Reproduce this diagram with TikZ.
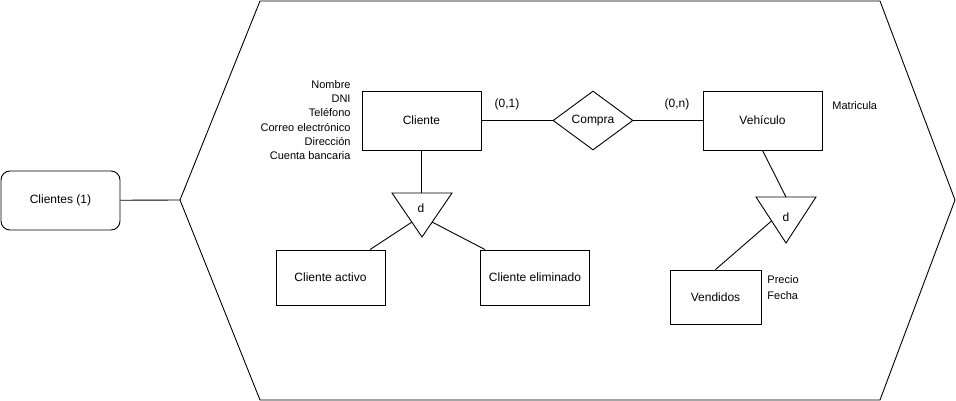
\documentclass[tikz,border=0pt]{standalone}
\usepackage{fontspec}
\setmainfont{Liberation Sans}
\usetikzlibrary{shapes.geometric}
\begin{document}
\begin{tikzpicture}[x=1pt,y=-1pt,line width=0.9pt]
        \tikzstyle{every node}+=[inner sep=0pt]
        \tikzstyle{entidad}=[draw=black, minimum width=119, minimum height=59, font=\fontsize{12}{14}\selectfont]
        \tikzstyle{subent}=[draw=black, minimum width=109, minimum height=55, font=\fontsize{12}{14}\selectfont]
        \tikzstyle{relacion}=[draw=black, diamond, minimum width=80, minimum height=59, font=\fontsize{12}{14}\selectfont]
        \tikzstyle{etiqueta}=[font=\fontsize{12}{14}\selectfont]
        \tikzstyle{atributo}=[font=\fontsize{11}{14.2}\selectfont]
        \useasboundingbox (0,0) rectangle (956,401);
        % contenedor
        \node [draw=black, rounded corners=9, minimum width=119, minimum height=59, font=\fontsize{12}{14}\selectfont] (clientes) at (60.5,200.5) {Clientes (1)};
        \coordinate (hexizq) at (180,200);
        \draw [black] (hexizq) -- (260,1) -- (880,1) -- (955,200) -- (880,400) -- (260,400) -- cycle;
        \draw [black] (clientes) -- (hexizq);
        % entidades y relacion
        \node [entidad] (cliente) at (421.5,120.5) {Cliente};
        \node [relacion] (compra) at (593,120.5) {Compra};
        \node [entidad] (vehiculo) at (762.5,120.5) {Vehículo};
        \draw [black] (cliente) -- (compra) -- (vehiculo);
        \node [etiqueta] (card1) at (507,104) {(0,1)};
        \node [etiqueta] (cardn) at (677,104) {(0,n)};
        \node [atributo, align=right, anchor=east] (atrcliente) at (351,120) {Nombre\\DNI\\Teléfono\\Correo electrónico\\Dirección\\Cuenta bancaria};
        \node [atributo, anchor=west] (atrvehiculo) at (832,106) {Matricula};
        % especializacion de cliente
        \coordinate (t1a) at (392,193);
        \coordinate (t1b) at (452,193);
        \coordinate (t1c) at (422,237);
        \draw [black] (t1a) -- (t1b) -- (t1c) -- cycle;
        \node [etiqueta] (d1) at (421,208) {d};
        \coordinate (t1l) at (412,222);
        \coordinate (t1r) at (432,222);
        \node [subent] (activo) at (330.5,277.5) {Cliente activo};
        \node [subent] (eliminado) at (535,277.5) {Cliente eliminado};
        \draw [black] (cliente.south) -- (cliente.south |- t1a);
        \draw [black] (t1l) -- ([xshift=39.5]activo.north);
        \draw [black] (t1r) -- ([xshift=-50]eliminado.north);
        % especializacion de vehiculo
        \coordinate (t2a) at (756,197);
        \coordinate (t2b) at (816,197);
        \coordinate (t2c) at (786,243);
        \coordinate (t2m) at (786,197);
        \draw [black] (t2a) -- (t2b) -- (t2c) -- cycle;
        \node [etiqueta] (d2) at (786,217) {d};
        \coordinate (t2l) at (771.5,221);
        \node [draw=black, minimum width=91, minimum height=54, font=\fontsize{12}{14}\selectfont] (vendidos) at (715.5,297) {Vendidos};
        \draw [black] (vehiculo.south) -- (t2m);
        \draw [black] (t2l) -- (vendidos.north);
        \node [atributo, align=left, anchor=west, font=\fontsize{11}{16}\selectfont] (atrvendidos) at (767,288) {Precio\\Fecha};
    \end{tikzpicture}
\end{document}
